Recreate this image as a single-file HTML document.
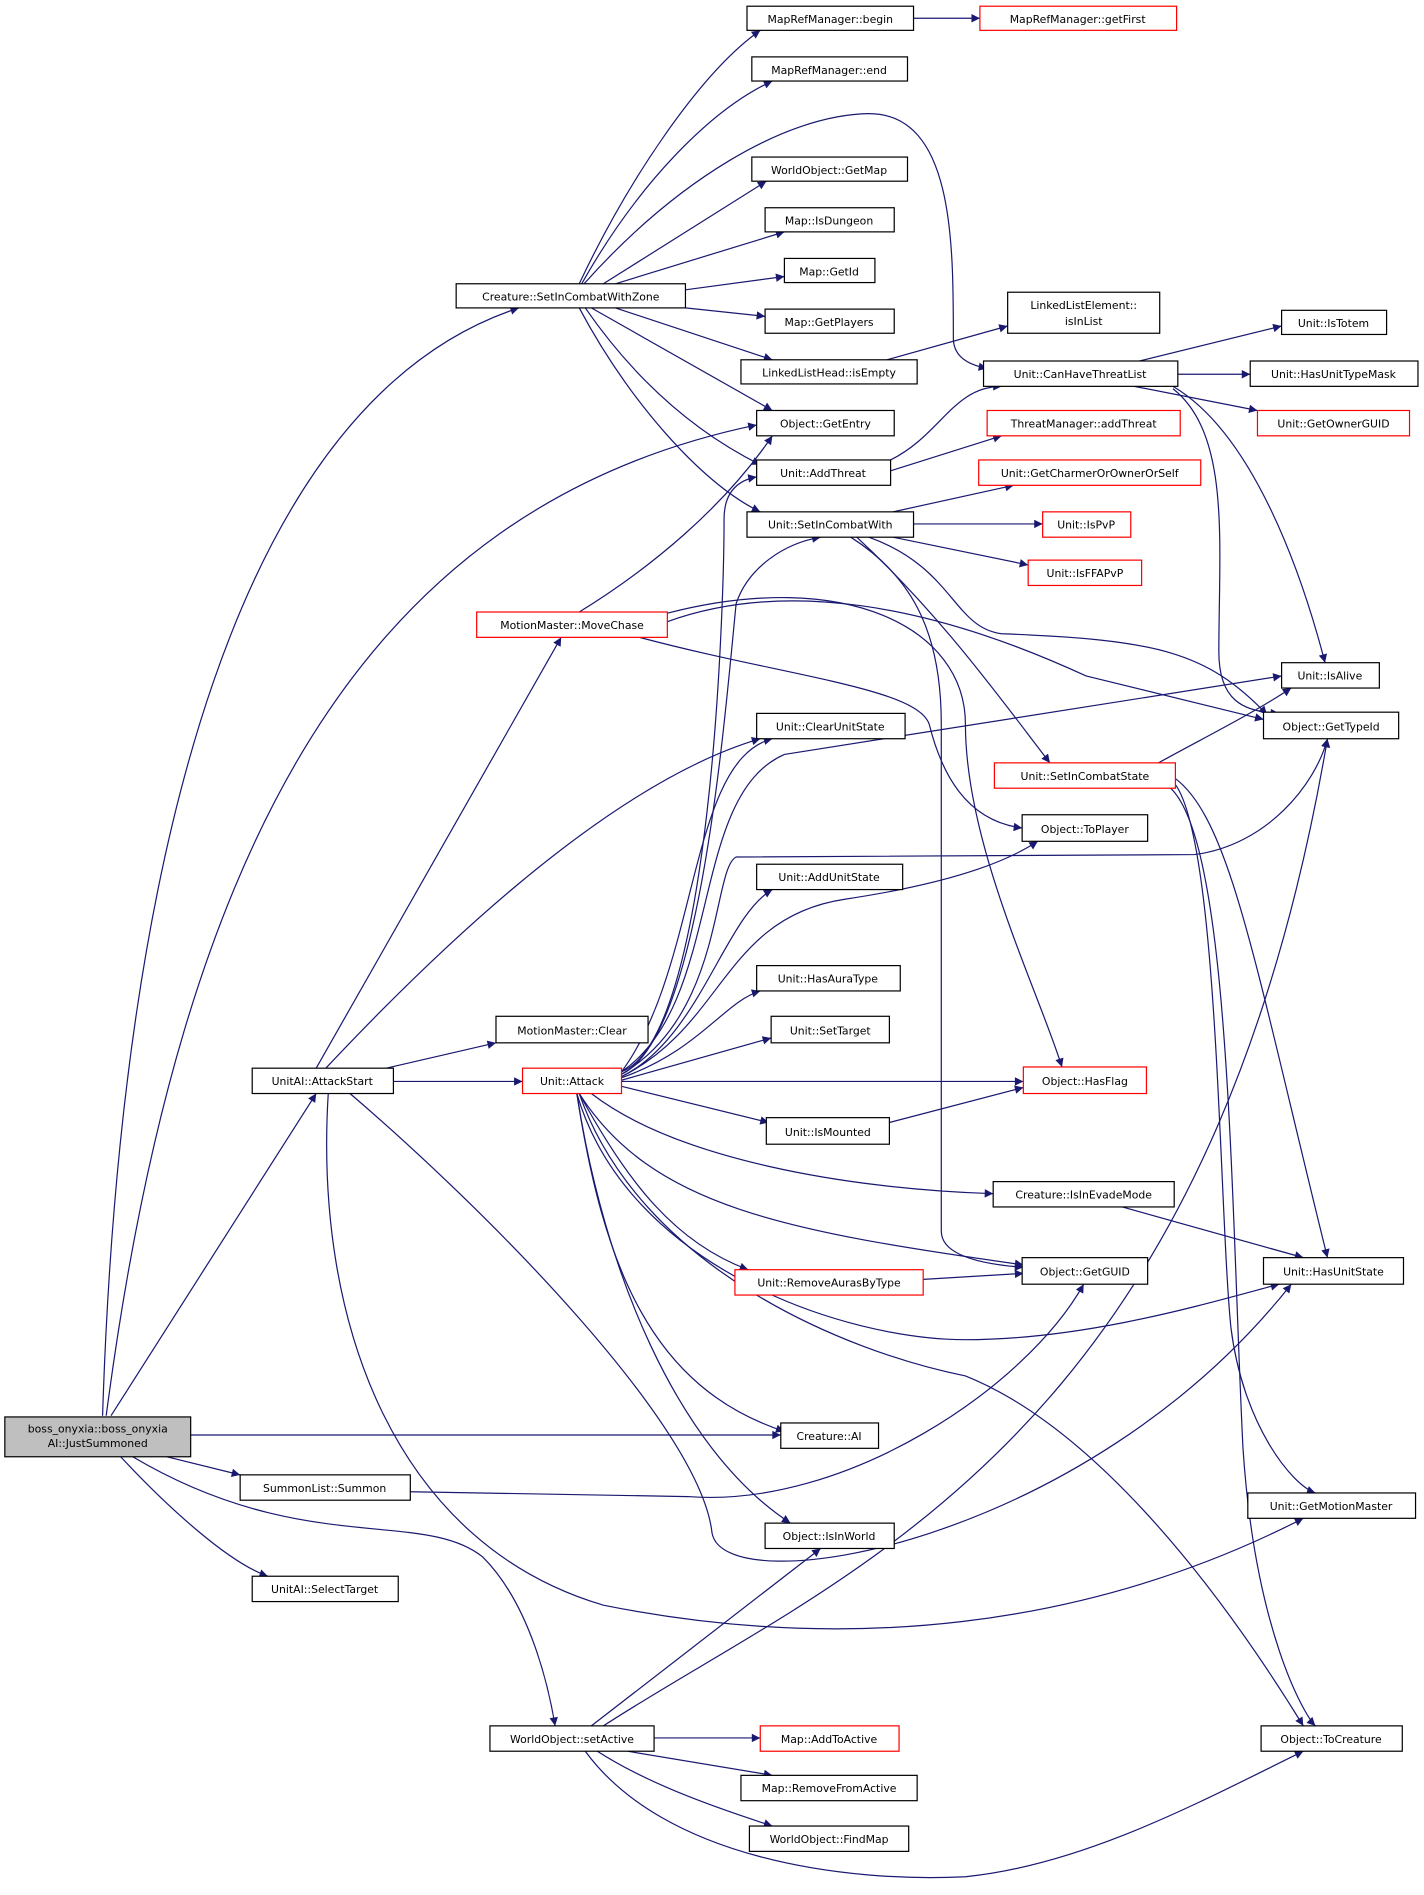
<!DOCTYPE html>
<html><head><meta charset="utf-8"><style>
html,body{margin:0;padding:0;background:#fff;}
svg{display:block;}
text{font-family:"DejaVu Sans","Liberation Sans",sans-serif;font-size:9px;fill:#000;text-anchor:middle;}
.n{fill:#fff;stroke:#000;stroke-width:1;}
.r{fill:#fff;stroke:#ff0000;stroke-width:1;}
.e{fill:none;stroke:#191970;stroke-width:1;marker-end:url(#a);}
</style></head><body>
<svg width="1424" height="1895" viewBox="0 0 1180 1570" xmlns="http://www.w3.org/2000/svg">
<defs><marker id="a" viewBox="0 0 10 10" refX="10" refY="5" markerWidth="9" markerHeight="7" markerUnits="userSpaceOnUse" orient="auto"><path d="M0,0 L10,5 L0,10 z" fill="#191970"/></marker></defs>
<g>
<path class="e" d="M85,1173 C100,700 200,330 430,255"/>
<path class="e" d="M88,1173 C150,700 300,420 627,352"/>
<path class="e" d="M92,1173 L262,906"/>
<path class="e" d="M158,1189 L647,1189"/>
<path class="e" d="M130,1205 L199,1222"/>
<path class="e" d="M100,1207 C140,1250 190,1295 222,1306"/>
<path class="e" d="M110,1207 C250,1290 350,1250 400,1290 C440,1330 455,1400 460,1430"/>
<path class="e" d="M480,235 C520,150 580,60 630,25"/>
<path class="e" d="M482,235 C530,150 590,90 640,67"/>
<path class="e" d="M484,235 C560,150 650,95 720,94 C790,94 790,200 790,280 Q790,300 818,305"/>
<path class="e" d="M500,235 L635,150"/>
<path class="e" d="M510,235 L650,192"/>
<path class="e" d="M568,240 L650,229"/>
<path class="e" d="M568,255 L634,262"/>
<path class="e" d="M510,255 L640,298"/>
<path class="e" d="M490,255 L640,340"/>
<path class="e" d="M485,255 C530,320 580,360 630,385"/>
<path class="e" d="M480,255 C520,330 580,400 630,424"/>
<path class="e" d="M735,298 L835,270"/>
<path class="e" d="M757,15 L812,15"/>
<path class="e" d="M738,381 C780,360 790,320 830,320"/>
<path class="e" d="M738,390 L830,361"/>
<path class="e" d="M740,424 L840,402"/>
<path class="e" d="M757,434 L864,434"/>
<path class="e" d="M740,445 L852,468"/>
<path class="e" d="M720,445 C790,470 790,520 830,525 C960,530 1000,540 1050,592"/>
<path class="e" d="M710,445 C780,510 830,580 870,632"/>
<path class="e" d="M705,445 C760,480 780,530 780,600 L780,1020 Q780,1045 848,1050"/>
<path class="e" d="M940,300 L1062,270"/>
<path class="e" d="M976,310 L1036,310"/>
<path class="e" d="M940,320 L1042,340"/>
<path class="e" d="M972,320 C1040,360 1080,480 1098,549"/>
<path class="e" d="M972,322 C1020,360 1010,450 1010,540 C1010,580 1030,590 1060,591"/>
<path class="e" d="M480,507 C540,470 600,420 640,361"/>
<path class="e" d="M553,515 C650,480 770,500 900,560 L1047,596"/>
<path class="e" d="M553,508 C700,470 800,520 800,600 C800,700 860,820 880,884"/>
<path class="e" d="M530,528 C650,560 760,570 770,600 C780,640 800,680 847,686"/>
<path class="e" d="M262,885 L465,528"/>
<path class="e" d="M270,885 C350,800 500,650 630,612"/>
<path class="e" d="M320,885 L411,864"/>
<path class="e" d="M326,896 L433,896"/>
<path class="e" d="M290,906 C400,1000 580,1180 590,1270 C600,1330 900,1280 1070,1064"/>
<path class="e" d="M272,906 C260,1100 330,1280 500,1330 C700,1370 900,1350 1080,1258"/>
<path class="e" d="M515,890 C580,860 600,600 610,500 C620,470 650,450 680,445"/>
<path class="e" d="M515,888 C590,860 600,500 600,430 Q600,400 627,395"/>
<path class="e" d="M515,888 C580,800 570,630 640,612"/>
<path class="e" d="M515,888 C600,830 570,660 650,625 L1062,560"/>
<path class="e" d="M515,890 C600,840 590,720 610,710 L990,708 C1050,700 1090,650 1100,612"/>
<path class="e" d="M515,892 C600,850 600,760 700,745 C800,730 840,710 860,697"/>
<path class="e" d="M515,892 C580,860 600,760 640,737"/>
<path class="e" d="M515,893 C580,870 600,830 630,821"/>
<path class="e" d="M515,895 L639,860"/>
<path class="e" d="M515,896 L848,896"/>
<path class="e" d="M515,900 L637,930"/>
<path class="e" d="M490,906 C560,960 700,985 823,989"/>
<path class="e" d="M480,906 C540,1000 650,1020 848,1048"/>
<path class="e" d="M480,906 C520,980 560,1030 620,1052"/>
<path class="e" d="M478,906 C520,1050 700,1110 800,1110 C900,1110 1000,1080 1060,1064"/>
<path class="e" d="M478,906 C500,1050 540,1150 650,1186"/>
<path class="e" d="M480,906 C530,1050 700,1120 800,1140 C900,1180 1000,1300 1080,1430"/>
<path class="e" d="M478,906 C500,1050 560,1200 655,1262"/>
<path class="e" d="M737,930 L848,901"/>
<path class="e" d="M930,1000 L1080,1042"/>
<path class="e" d="M765,1060 L848,1055"/>
<path class="e" d="M960,632 C1000,610 1040,590 1070,570"/>
<path class="e" d="M974,645 C1020,680 1040,800 1100,1042"/>
<path class="e" d="M974,650 C1010,700 1010,1000 1020,1100 C1030,1180 1070,1230 1090,1237"/>
<path class="e" d="M970,653 C1020,700 1020,1000 1030,1200 C1040,1350 1080,1420 1090,1430"/>
<path class="e" d="M340,1236 L570,1240 C700,1250 850,1150 898,1064"/>
<path class="e" d="M490,1430 L680,1283"/>
<path class="e" d="M500,1430 C700,1300 1000,1200 1100,612"/>
<path class="e" d="M542,1440 L630,1440"/>
<path class="e" d="M520,1451 L640,1471"/>
<path class="e" d="M495,1451 C540,1480 600,1500 640,1513"/>
<path class="e" d="M485,1451 C550,1540 700,1560 800,1555 C900,1545 1000,1490 1080,1451"/>
</g>
<g>
<rect x="4" y="1174" width="154" height="33" fill="#bfbfbf" stroke="#000"/>
<text x="81" y="1187">boss_onyxia::boss_onyxia</text><text x="81" y="1199">AI::JustSummoned</text>
<rect class="n" x="378" y="235" width="190" height="20"/><text x="473" y="249">Creature::SetInCombatWithZone</text>
<rect class="n" x="619" y="5" width="138" height="20"/><text x="688" y="19">MapRefManager::begin</text>
<rect class="r" x="812" y="5" width="163" height="20"/><text x="893" y="19">MapRefManager::getFirst</text>
<rect class="n" x="623" y="47" width="129" height="20"/><text x="687" y="61">MapRefManager::end</text>
<rect class="n" x="623" y="130" width="129" height="20"/><text x="687" y="144">WorldObject::GetMap</text>
<rect class="n" x="634" y="172" width="107" height="20"/><text x="687" y="186">Map::IsDungeon</text>
<rect class="n" x="650" y="214" width="75" height="20"/><text x="687" y="228">Map::GetId</text>
<rect class="n" x="634" y="256" width="107" height="20"/><text x="687" y="270">Map::GetPlayers</text>
<rect class="n" x="614" y="298" width="146" height="20"/><text x="687" y="312">LinkedListHead::isEmpty</text>
<rect class="n" x="835" y="242" width="126" height="34"/><text x="898" y="256">LinkedListElement::</text><text x="898" y="269">isInList</text>
<rect class="n" x="815" y="299" width="161" height="21"/><text x="895" y="313">Unit::CanHaveThreatList</text>
<rect class="n" x="1062" y="257" width="87" height="20"/><text x="1105" y="271">Unit::IsTotem</text>
<rect class="n" x="1036" y="299" width="139" height="21"/><text x="1105" y="313">Unit::HasUnitTypeMask</text>
<rect class="r" x="1042" y="340" width="126" height="21"/><text x="1105" y="354">Unit::GetOwnerGUID</text>
<rect class="r" x="818" y="340" width="160" height="21"/><text x="898" y="354">ThreatManager::addThreat</text>
<rect class="n" x="627" y="340" width="114" height="21"/><text x="684" y="354">Object::GetEntry</text>
<rect class="n" x="627" y="381" width="111" height="21"/><text x="682" y="395">Unit::AddThreat</text>
<rect class="r" x="811" y="381" width="184" height="21"/><text x="903" y="395">Unit::GetCharmerOrOwnerOrSelf</text>
<rect class="n" x="619" y="424" width="138" height="21"/><text x="688" y="438">Unit::SetInCombatWith</text>
<rect class="r" x="864" y="424" width="73" height="21"/><text x="900" y="438">Unit::IsPvP</text>
<rect class="r" x="852" y="464" width="94" height="21"/><text x="899" y="478">Unit::IsFFAPvP</text>
<rect class="r" x="395" y="507" width="158" height="21"/><text x="474" y="521">MotionMaster::MoveChase</text>
<rect class="n" x="1062" y="549" width="81" height="21"/><text x="1102" y="563">Unit::IsAlive</text>
<rect class="n" x="1047" y="590" width="112" height="22"/><text x="1103" y="605">Object::GetTypeId</text>
<rect class="n" x="627" y="591" width="123" height="21"/><text x="688" y="605">Unit::ClearUnitState</text>
<rect class="r" x="824" y="632" width="150" height="21"/><text x="899" y="646">Unit::SetInCombatState</text>
<rect class="n" x="847" y="675" width="104" height="22"/><text x="899" y="690">Object::ToPlayer</text>
<rect class="n" x="627" y="716" width="121" height="21"/><text x="687" y="730">Unit::AddUnitState</text>
<rect class="n" x="627" y="800" width="119" height="21"/><text x="686" y="814">Unit::HasAuraType</text>
<rect class="n" x="639" y="842" width="98" height="22"/><text x="688" y="857">Unit::SetTarget</text>
<rect class="n" x="411" y="842" width="126" height="22"/><text x="474" y="857">MotionMaster::Clear</text>
<rect class="n" x="209" y="885" width="117" height="21"/><text x="267" y="899">UnitAI::AttackStart</text>
<rect class="r" x="433" y="885" width="82" height="21"/><text x="474" y="899">Unit::Attack</text>
<rect class="r" x="848" y="884" width="102" height="22"/><text x="899" y="899">Object::HasFlag</text>
<rect class="n" x="635" y="926" width="102" height="22"/><text x="686" y="941">Unit::IsMounted</text>
<rect class="n" x="823" y="979" width="150" height="21"/><text x="898" y="993">Creature::IsInEvadeMode</text>
<rect class="n" x="847" y="1042" width="104" height="22"/><text x="899" y="1057">Object::GetGUID</text>
<rect class="r" x="609" y="1052" width="156" height="21"/><text x="687" y="1066">Unit::RemoveAurasByType</text>
<rect class="n" x="1047" y="1042" width="116" height="22"/><text x="1105" y="1057">Unit::HasUnitState</text>
<rect class="n" x="647" y="1179" width="81" height="21"/><text x="687" y="1193">Creature::AI</text>
<rect class="n" x="199" y="1222" width="141" height="21"/><text x="269" y="1236">SummonList::Summon</text>
<rect class="n" x="209" y="1306" width="121" height="21"/><text x="269" y="1320">UnitAI::SelectTarget</text>
<rect class="n" x="1034" y="1237" width="139" height="21"/><text x="1103" y="1251">Unit::GetMotionMaster</text>
<rect class="n" x="634" y="1262" width="107" height="21"/><text x="687" y="1276">Object::IsInWorld</text>
<rect class="n" x="406" y="1430" width="136" height="21"/><text x="474" y="1444">WorldObject::setActive</text>
<rect class="r" x="630" y="1430" width="115" height="21"/><text x="687" y="1444">Map::AddToActive</text>
<rect class="n" x="1045" y="1430" width="117" height="21"/><text x="1103" y="1444">Object::ToCreature</text>
<rect class="n" x="614" y="1471" width="146" height="21"/><text x="687" y="1485">Map::RemoveFromActive</text>
<rect class="n" x="621" y="1513" width="132" height="21"/><text x="687" y="1527">WorldObject::FindMap</text>
</g>
</svg>
</body></html>
